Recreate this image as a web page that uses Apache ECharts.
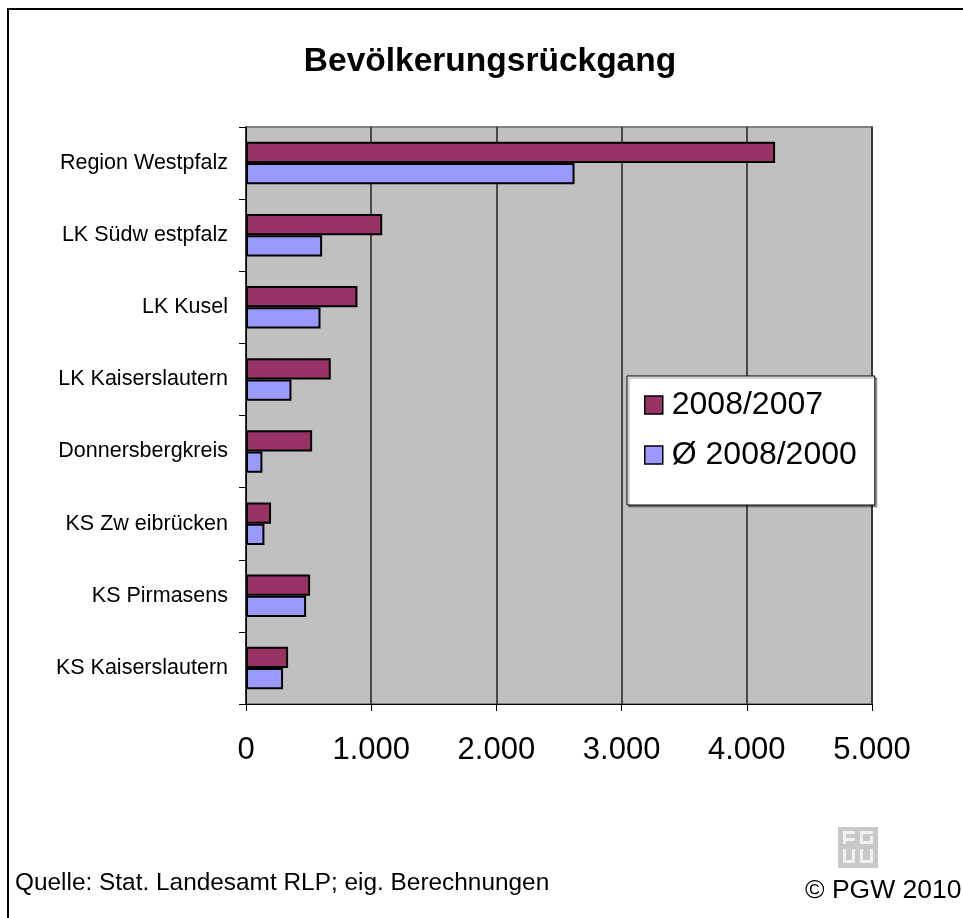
<!DOCTYPE html>
<html>
<head>
<meta charset="utf-8">
<script src="https://cdn.jsdelivr.net/npm/echarts@6/dist/echarts.min.js"></script>
<style>
  html, body { margin: 0; padding: 0; background: #fff; }
  #chart { width: 963px; height: 918px; }
</style>
</head>
<body>
<div id="chart"></div>
<script>
// Kategorien (von oben nach unten)
const categories = [
  "Region Westpfalz",
  "LK Südw estpfalz",
  "LK Kusel",
  "LK Kaiserslautern",
  "Donnersbergkreis",
  "KS Zw eibrücken",
  "KS Pirmasens",
  "KS Kaiserslautern",
];
// Werte
const values2007 = [4226, 1088, 890, 677, 528, 200, 512, 336];
const valuesAvg = [2624, 608, 595, 363, 131, 147, 480, 296];
const xTicks = [0, 1000, 2000, 3000, 4000, 5000];

const font = "'Liberation Sans', Arial, sans-serif";

const myChart = echarts.init(document.getElementById("chart"));
myChart.setOption({
  animation: false,
  backgroundColor: "#fff",
  textStyle: { fontFamily: font },
  grid: {
    left: 246,
    right: 91,
    top: 127,
    bottom: 214,
    show: true,
    backgroundColor: "#C0C0C0",
    borderColor: "#808080",
    borderWidth: 2,
  },
  legend: {
    orient: "vertical",
    left: 627,
    top: 376,
    padding: [13, 18, 34, 17],
    itemGap: 18,
    itemWidth: 18,
    itemHeight: 18,
    icon: "rect",
    backgroundColor: "#fff",
    borderColor: "#000",
    borderWidth: 1,
    shadowColor: "rgba(0,0,0,0.35)",
    shadowOffsetX: 2,
    shadowOffsetY: 2,
    itemStyle: { borderColor: "#000", borderWidth: 1.5 },
    textStyle: { fontSize: 32, color: "#000", fontFamily: font, padding: [0, 0, 0, 4] },
    data: ["2008/2007", "Ø 2008/2000"],
  },
  xAxis: {
    type: "value",
    min: xTicks[0],
    max: xTicks[xTicks.length - 1],
    interval: 1000,
    axisLine: { show: true, lineStyle: { color: "#000", width: 1 } },
    axisTick: { show: true, length: 7, lineStyle: { color: "#000" } },
    splitLine: { show: true, lineStyle: { color: "#222", width: 1.5 } },
    axisLabel: {
      color: "#000",
      fontSize: 31,
      margin: 31,
      formatter: (v) => (v === 0 ? "0" : (v / 1000).toFixed(0) + ".000"),
    },
  },
  yAxis: {
    type: "category",
    inverse: true,
    data: categories,
    axisLine: { show: true, lineStyle: { color: "#000", width: 1 } },
    axisTick: { show: true, length: 7, lineStyle: { color: "#000" } },
    axisLabel: { color: "#000", fontSize: 21.5, margin: 18 },
  },
  series: [
    {
      name: "2008/2007",
      type: "bar",
      data: values2007,
      barGap: "0%",
      barCategoryGap: "41%",
      itemStyle: { color: "#993366", borderColor: "#000", borderWidth: 2 },
    },
    {
      name: "Ø 2008/2000",
      type: "bar",
      data: valuesAvg,
      barGap: "0%",
      barCategoryGap: "41%",
      itemStyle: { color: "#9999FF", borderColor: "#000", borderWidth: 2 },
    },
  ],
  graphic: [
    {
      type: "rect",
      shape: { x: 8, y: 9, width: 1000, height: 1000 },
      style: { fill: null, stroke: "#000", lineWidth: 2 },
      silent: true,
    },
    {
      type: "text",
      x: 490,
      y: 62,
      style: {
        text: "Bevölkerungsrückgang",
        font: "bold 33.5px " + font,
        fill: "#000",
        textAlign: "center",
        textVerticalAlign: "middle",
      },
    },
    {
      type: "text",
      x: 15,
      y: 883,
      style: {
        text: "Quelle: Stat. Landesamt RLP; eig. Berechnungen",
        font: "24.4px " + font,
        fill: "#000",
        textVerticalAlign: "middle",
      },
    },
    {
      type: "text",
      x: 805,
      y: 891,
      style: {
        text: "© PGW 2010",
        font: "26.5px " + font,
        fill: "#000",
        textVerticalAlign: "middle",
      },
    },
    // PGW-Logo
    {
      type: "group",
      x: 838,
      y: 827,
      children: [
        { type: "rect", shape: { x: 0, y: 0, width: 40, height: 41 }, style: { fill: "#c8c8c8" } },
        { type: "rect", shape: { x: 5, y: 4, width: 12, height: 3 }, style: { fill: "#f0f0f0" } },
        { type: "rect", shape: { x: 5, y: 4, width: 3, height: 13 }, style: { fill: "#f0f0f0" } },
        { type: "rect", shape: { x: 5, y: 11, width: 12, height: 3 }, style: { fill: "#f0f0f0" } },
        { type: "rect", shape: { x: 22, y: 4, width: 13, height: 3 }, style: { fill: "#f0f0f0" } },
        { type: "rect", shape: { x: 22, y: 4, width: 3, height: 13 }, style: { fill: "#f0f0f0" } },
        { type: "rect", shape: { x: 22, y: 14, width: 13, height: 3 }, style: { fill: "#f0f0f0" } },
        { type: "rect", shape: { x: 32, y: 9, width: 3, height: 8 }, style: { fill: "#f0f0f0" } },
        { type: "rect", shape: { x: 5, y: 22, width: 3, height: 14 }, style: { fill: "#f0f0f0" } },
        { type: "rect", shape: { x: 5, y: 33, width: 12, height: 3 }, style: { fill: "#f0f0f0" } },
        { type: "rect", shape: { x: 14, y: 22, width: 3, height: 14 }, style: { fill: "#f0f0f0" } },
        { type: "rect", shape: { x: 22, y: 22, width: 3, height: 14 }, style: { fill: "#f0f0f0" } },
        { type: "rect", shape: { x: 22, y: 33, width: 13, height: 3 }, style: { fill: "#f0f0f0" } },
        { type: "rect", shape: { x: 32, y: 22, width: 3, height: 14 }, style: { fill: "#f0f0f0" } },
      ],
    },
  ],
});
</script>
</body>
</html>
